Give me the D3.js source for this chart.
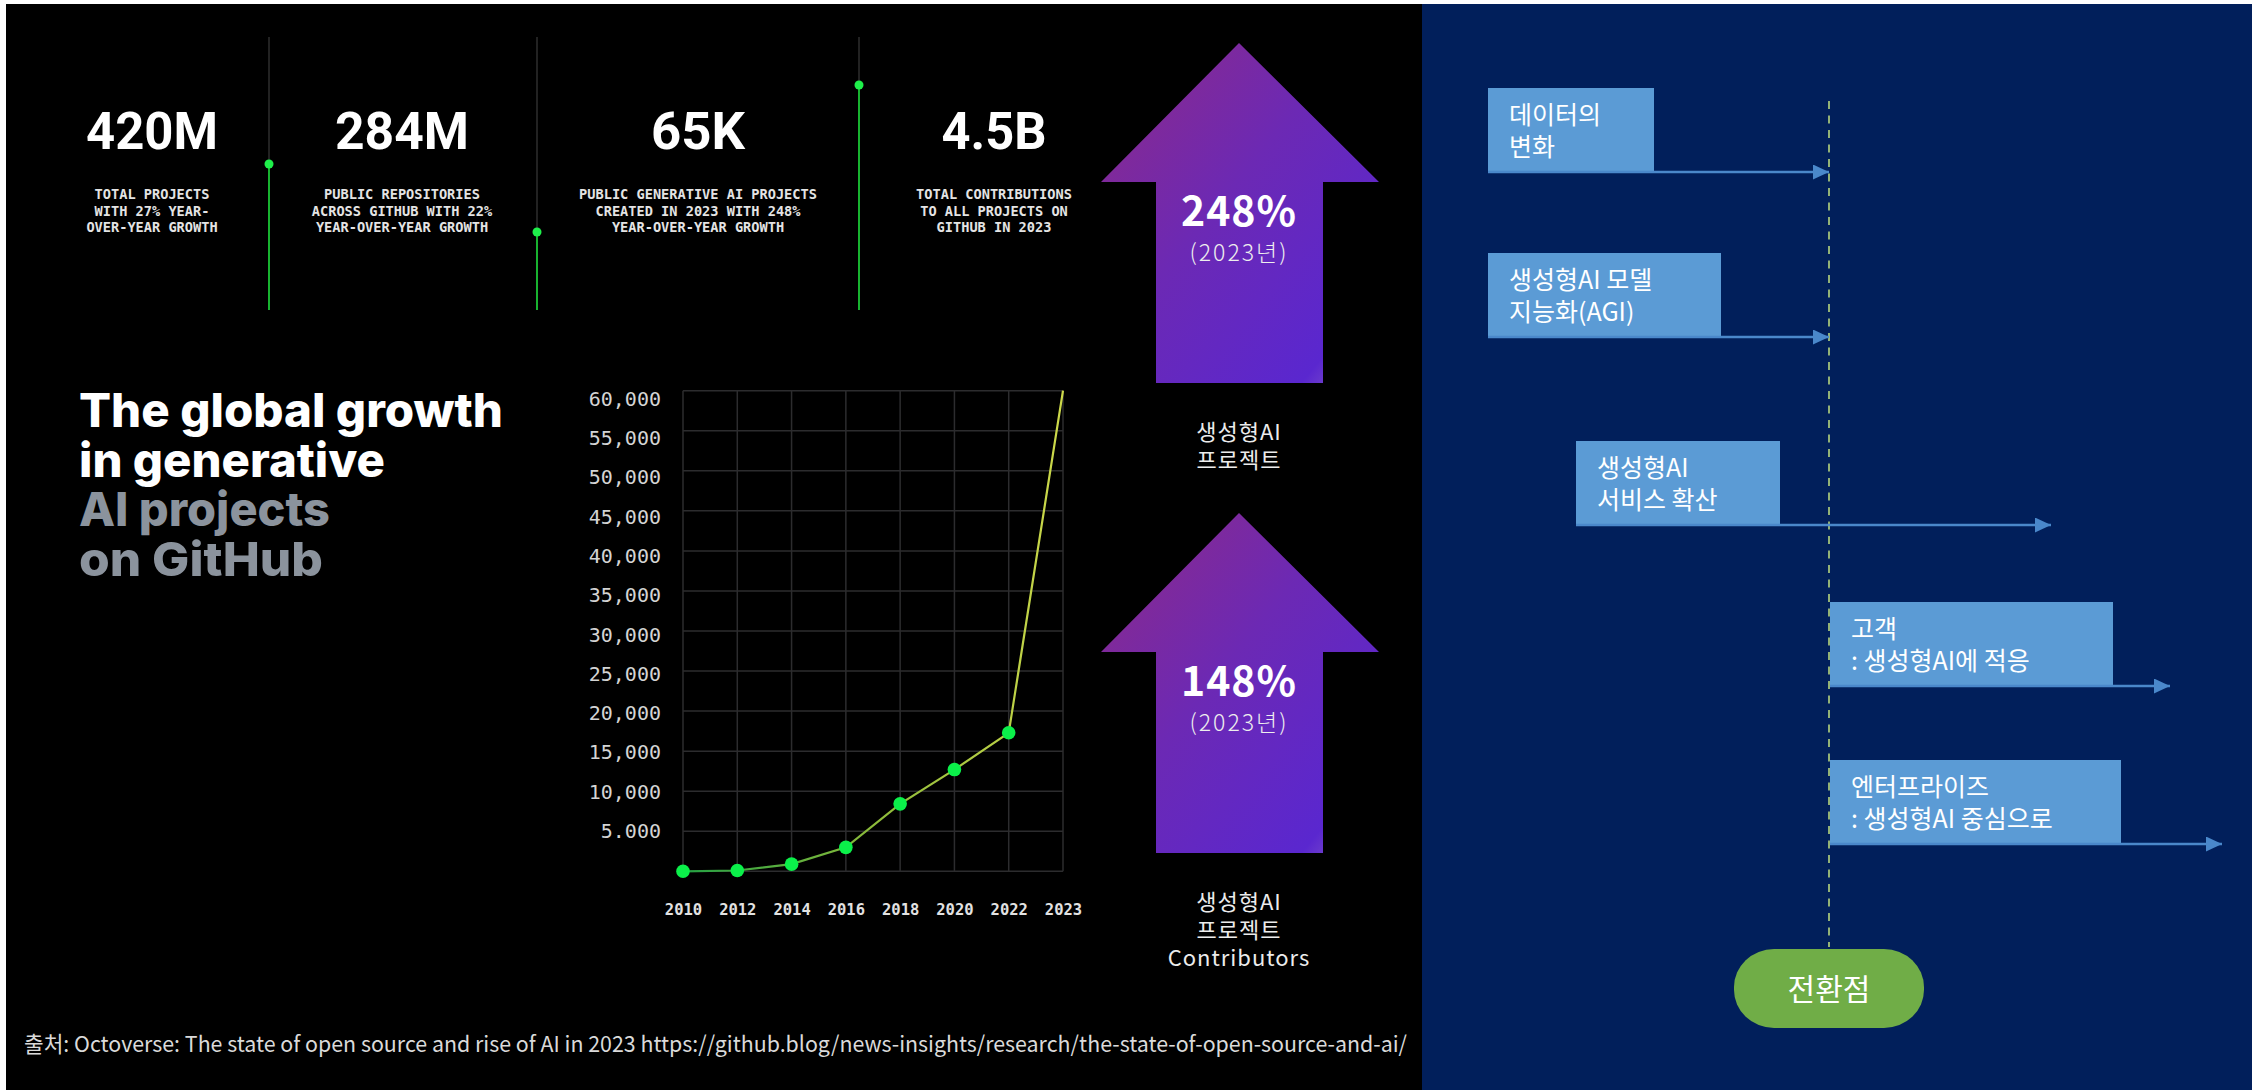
<!DOCTYPE html>
<html>
<head>
<meta charset="utf-8">
<script src="https://cdn.jsdelivr.net/npm/d3@7"></script>
<style>
  body { margin: 0; background: #fff; }
  svg { display: block; }
</style>
</head>
<body>
<svg id="chart" width="2252" height="1090"></svg>
<script>
// Data
const years = ["2010", "2012", "2014", "2016", "2018", "2020", "2022", "2023"];
const projects = [0, 100, 890, 2990, 8420, 12700, 17290, 60000];
const yTicks = [5000, 10000, 15000, 20000, 25000, 30000, 35000, 40000, 45000, 50000, 55000, 60000];
const yTickLabels = ["5.000", "10,000", "15,000", "20,000", "25,000", "30,000", "35,000", "40,000", "45,000", "50,000", "55,000", "60,000"];

const statValues = ["420M", "284M", "65K", "4.5B"];
const statCaptions = [
  ["TOTAL PROJECTS", "WITH 27% YEAR-", "OVER-YEAR GROWTH"],
  ["PUBLIC REPOSITORIES", "ACROSS GITHUB WITH 22%", "YEAR-OVER-YEAR GROWTH"],
  ["PUBLIC GENERATIVE AI PROJECTS", "CREATED IN 2023 WITH 248%", "YEAR-OVER-YEAR GROWTH"],
  ["TOTAL CONTRIBUTIONS", "TO ALL PROJECTS ON", "GITHUB IN 2023"]
];
const titleLines = ["The global growth", "in generative", "AI projects", "on GitHub"];

const growthPercents = ["248%", "148%"];
const growthYearLabel = "(2023년)";
const growthCaptions = [["생성형AI", "프로젝트"], ["생성형AI", "프로젝트", "Contributors"]];

const timelineLabels = [
  ["데이터의", "변화"],
  ["생성형AI 모델", "지능화(AGI)"],
  ["생성형AI", "서비스 확산"],
  ["고객", ": 생성형AI에 적응"],
  ["엔터프라이즈", ": 생성형AI 중심으로"]
];
const turningPointLabel = "전환점";
const sourceText = "출처: Octoverse: The state of open source and rise of AI in 2023 https://github.blog/news-insights/research/the-state-of-open-source-and-ai/";

// Layout
const statCenters = [152, 402, 698, 994];
const statDividers = [{ x: 269, dot: 164 }, { x: 537, dot: 232 }, { x: 859, dot: 85 }];
const titleWidths = [424, 306, 251, 244];
const statWidths = [132, 134, 94, 105];
const arrowTops = [43, 513];
const boxLayout = [
  { x: 1488, y: 88, w: 166, end: 1829 },
  { x: 1488, y: 253, w: 233, end: 1829 },
  { x: 1576, y: 441, w: 204, end: 2051 },
  { x: 1830, y: 602, w: 283, end: 2170 },
  { x: 1830, y: 760, w: 291, end: 2222 }
];

const svg = d3.select("#chart");
const defs = svg.append("defs");

// Panels
svg.append("rect").attr("x", 6).attr("y", 4).attr("width", 1416).attr("height", 1086).attr("fill", "#000");
svg.append("rect").attr("x", 1422).attr("y", 4).attr("width", 830).attr("height", 1086).attr("fill", "#011f5b");

// Top stats
statDividers.forEach((d) => {
  svg.append("line").attr("x1", d.x).attr("x2", d.x).attr("y1", 37).attr("y2", d.dot)
    .attr("stroke", "#3a3a3a").attr("stroke-width", 1.2);
  svg.append("line").attr("x1", d.x).attr("x2", d.x).attr("y1", d.dot).attr("y2", 310)
    .attr("stroke", "#1ee03c").attr("stroke-width", 1.6);
  svg.append("circle").attr("cx", d.x).attr("cy", d.dot).attr("r", 4.5).attr("fill", "#1ef04a");
});

svg.selectAll(".stat-value")
  .data(statValues)
  .enter()
  .append("text")
  .attr("class", "stat-value")
  .attr("x", (d, i) => statCenters[i])
  .attr("y", 149)
  .attr("text-anchor", "middle")
  .attr("textLength", (d, i) => statWidths[i])
  .attr("lengthAdjust", "spacingAndGlyphs")
  .style("font-family", "Roboto, sans-serif")
  .style("font-weight", 700)
  .style("font-size", "52px")
  .attr("fill", "#fff")
  .text((d) => d);

statCaptions.forEach((lines, i) => {
  lines.forEach((line, j) => {
    svg.append("text")
      .attr("x", statCenters[i])
      .attr("y", 199 + j * 16.5)
      .attr("text-anchor", "middle")
      .attr("textLength", line.length * 8.2)
      .attr("lengthAdjust", "spacingAndGlyphs")
      .style("font-family", "'DejaVu Sans Mono', monospace")
      .style("font-size", "14.5px")
      .style("font-weight", 700)
      .attr("fill", "#e4e4e4")
      .text(line);
  });
});

// Title
svg.selectAll(".title")
  .data(titleLines)
  .enter()
  .append("text")
  .attr("class", "title")
  .attr("x", 79)
  .attr("y", (d, i) => 427 + i * 49.5)
  .attr("textLength", (d, i) => titleWidths[i])
  .attr("lengthAdjust", "spacingAndGlyphs")
  .style("font-family", "Inter, sans-serif")
  .style("font-weight", 800)
  .style("font-size", "47px")
  .attr("fill", (d, i) => (i < 2 ? "#ffffff" : "#8b939d"))
  .text((d) => d);

// Line chart
const x = d3.scalePoint().domain(years).range([683, 1063]);
const y = d3.scaleLinear().domain([0, 60000]).range([871.3, 390.7]);
const yLabel = d3.scaleLinear().domain([5000, 60000]).range([831, 399]);
const data = years.map((yr, i) => ({ year: yr, value: projects[i] }));

const grid = svg.append("g").attr("stroke", "#2c2c2e").attr("stroke-width", 1.5);
grid.selectAll(".hgrid")
  .data([0].concat(yTicks))
  .enter()
  .append("line")
  .attr("x1", x.range()[0]).attr("x2", x.range()[1])
  .attr("y1", (d) => y(d)).attr("y2", (d) => y(d));
grid.selectAll(".vgrid")
  .data(years)
  .enter()
  .append("line")
  .attr("x1", (d) => x(d)).attr("x2", (d) => x(d))
  .attr("y1", y(60000)).attr("y2", y(0));

// Y-Axis
const yAxis = svg.append("g")
  .attr("transform", `translate(${x.range()[0]},0)`)
  .call(d3.axisLeft(yLabel).tickValues(yTicks).tickFormat((d, i) => yTickLabels[i]).tickSize(0).tickPadding(22));
yAxis.select(".domain").remove();
yAxis.selectAll("text")
  .style("font-family", "'DejaVu Sans Mono', monospace")
  .style("font-size", "20px")
  .attr("fill", "#d4d4d4");

// X-Axis
const xAxis = svg.append("g")
  .attr("transform", `translate(0,${y(0)})`)
  .call(d3.axisBottom(x).tickSize(0));
xAxis.select(".domain").remove();
xAxis.selectAll("text")
  .attr("y", 43.7)
  .attr("dy", 0)
  .style("font-family", "'DejaVu Sans Mono', monospace")
  .style("font-size", "15.5px")
  .style("font-weight", 700)
  .attr("fill", "#e2e2e2");

const lineGrad = defs.append("linearGradient")
  .attr("id", "lineGrad")
  .attr("gradientUnits", "userSpaceOnUse")
  .attr("x1", x.range()[0]).attr("x2", x.range()[1]).attr("y1", 0).attr("y2", 0);
lineGrad.append("stop").attr("offset", 0).attr("stop-color", "#23a043");
lineGrad.append("stop").attr("offset", 0.5).attr("stop-color", "#8cba3a");
lineGrad.append("stop").attr("offset", 1).attr("stop-color", "#cdd94a");

svg.append("path")
  .datum(data)
  .attr("fill", "none")
  .attr("stroke", "url(#lineGrad)")
  .attr("stroke-width", 2.2)
  .attr("d", d3.line().x((d) => x(d.year)).y((d) => y(d.value)));

svg.selectAll(".dot")
  .data(data.slice(0, -1))
  .enter()
  .append("circle")
  .attr("class", "dot")
  .attr("cx", (d) => x(d.year))
  .attr("cy", (d) => y(d.value))
  .attr("r", 6.8)
  .attr("fill", "#0bf04a");

// Growth arrows
const arrowGrad = defs.append("linearGradient")
  .attr("id", "arrowGrad")
  .attr("x1", 0).attr("y1", 0).attr("x2", 1).attr("y2", 1);
arrowGrad.append("stop").attr("offset", 0).attr("stop-color", "#8f2a86");
arrowGrad.append("stop").attr("offset", 0.45).attr("stop-color", "#6c29b4");
arrowGrad.append("stop").attr("offset", 0.86).attr("stop-color", "#5a27cf");
arrowGrad.append("stop").attr("offset", 0.9).attr("stop-color", "#6a3acd");
arrowGrad.append("stop").attr("offset", 0.96).attr("stop-color", "#a06fbf");
arrowGrad.append("stop").attr("offset", 1).attr("stop-color", "#c08cb8");

const arrowCx = 1239;
growthPercents.forEach((pct, i) => {
  const top = arrowTops[i];
  const headBase = top + 139;
  const bottom = top + 340;
  const pts = [
    [arrowCx, top], [1379, headBase], [1323, headBase], [1323, bottom],
    [1156, bottom], [1156, headBase], [1101, headBase]
  ];
  svg.append("path")
    .attr("d", "M" + pts.map((p) => p.join(",")).join("L") + "Z")
    .attr("fill", "url(#arrowGrad)");

  svg.append("text")
    .attr("x", arrowCx).attr("y", top + 183)
    .attr("text-anchor", "middle")
    .style("font-family", "'Noto Sans CJK KR', sans-serif")
    .style("font-weight", 700)
    .style("font-size", "41px")
    .style("letter-spacing", "1px")
    .attr("fill", "#fff")
    .text(pct);
  svg.append("text")
    .attr("x", arrowCx).attr("y", top + 218)
    .attr("text-anchor", "middle")
    .style("font-family", "'Noto Sans CJK KR', sans-serif")
    .style("font-weight", 300)
    .style("font-size", "23px")
    .style("letter-spacing", "2px")
    .attr("fill", "#eeeeee")
    .text(growthYearLabel);

  growthCaptions[i].forEach((line, j) => {
    svg.append("text")
      .attr("x", arrowCx).attr("y", bottom + 57 + j * 28)
      .attr("text-anchor", "middle")
      .style("font-family", "'Noto Sans CJK KR', sans-serif")
      .style("font-weight", 400)
      .style("font-size", "22px")
      .style("letter-spacing", "1px")
      .attr("fill", "#ececec")
      .text(line);
  });
});

// Source
svg.append("text")
  .attr("x", 24).attr("y", 1052)
  .attr("textLength", 1383)
  .attr("lengthAdjust", "spacingAndGlyphs")
  .style("font-family", "'Noto Sans CJK KR', sans-serif")
  .style("font-size", "22px")
  .attr("fill", "#dadada")
  .text(sourceText);

// Timeline (right panel)
svg.append("line")
  .attr("x1", 1829).attr("x2", 1829).attr("y1", 101).attr("y2", 947)
  .attr("stroke", "#a3c27a").attr("stroke-width", 1.8)
  .attr("stroke-dasharray", "8,6.5");

defs.append("marker")
  .attr("id", "arrowHead")
  .attr("viewBox", "0 0 16 15")
  .attr("refX", 16).attr("refY", 7.5)
  .attr("markerWidth", 16).attr("markerHeight", 15)
  .attr("markerUnits", "userSpaceOnUse")
  .attr("orient", "auto")
  .append("path")
  .attr("d", "M0,0L16,7.5L0,15Z")
  .attr("fill", "#4a88cb");

const boxH = 84.5;
timelineLabels.forEach((lines, i) => {
  const b = boxLayout[i];
  svg.append("rect")
    .attr("x", b.x).attr("y", b.y).attr("width", b.w).attr("height", boxH)
    .attr("fill", "#5b9bd5");
  svg.append("line")
    .attr("x1", b.x).attr("x2", b.end)
    .attr("y1", b.y + boxH - 0.5).attr("y2", b.y + boxH - 0.5)
    .attr("stroke", "#4a88cb").attr("stroke-width", 2.5)
    .attr("marker-end", "url(#arrowHead)");
  lines.forEach((line, j) => {
    svg.append("text")
      .attr("x", b.x + 21).attr("y", b.y + 36 + j * 32)
      .style("font-family", "'Noto Sans CJK KR', sans-serif")
      .style("font-size", "25px")
      .attr("fill", "#fff")
      .text(line);
  });
});

svg.append("rect")
  .attr("x", 1734).attr("y", 949).attr("width", 190).attr("height", 79)
  .attr("rx", 40).attr("ry", 38)
  .attr("fill", "#70ad47");
svg.append("text")
  .attr("x", 1829).attr("y", 1000)
  .attr("text-anchor", "middle")
  .style("font-family", "'Noto Sans CJK KR', sans-serif")
  .style("font-size", "30px")
  .attr("fill", "#fff")
  .text(turningPointLabel);
</script>
</body>
</html>
